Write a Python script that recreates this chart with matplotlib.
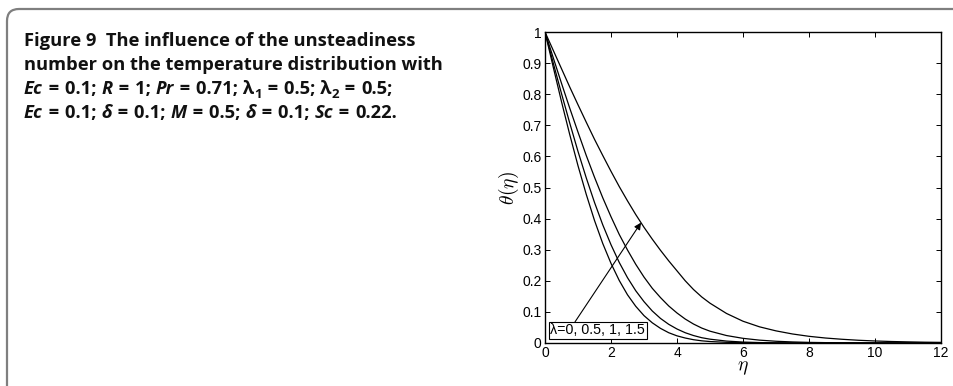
import matplotlib
matplotlib.use("Agg")
import matplotlib.pyplot as plt
from matplotlib.patches import FancyBboxPatch
from matplotlib.transforms import IdentityTransform

plt.rcParams['mathtext.fontset'] = 'cm'

# ---- data ----
eta = [0, 0.25, 0.5, 0.75, 1.0, 1.25, 1.5, 1.75, 2.0, 2.25, 2.5, 2.75, 3.0, 3.25, 3.5,
       3.75, 4.0, 4.25, 4.5, 4.75, 5.0, 5.5, 6.0, 6.5, 7.0, 7.5, 8.0, 8.5, 9.0, 9.5,
       10.0, 10.5, 11.0, 11.5, 12.0]
theta_l0 = [1.0, 0.887, 0.776, 0.670, 0.570, 0.478, 0.394, 0.320, 0.256, 0.201, 0.155,
            0.118, 0.088, 0.065, 0.047, 0.033, 0.023, 0.016, 0.0106, 0.007, 0.0047,
            0.0022, 0.001, 0.0004, 0.0002, 0.0001, 0, 0, 0, 0, 0, 0, 0, 0, 0]
theta_l05 = [1.0, 0.900, 0.802, 0.707, 0.616, 0.531, 0.452, 0.380, 0.316, 0.259, 0.210,
             0.168, 0.133, 0.103, 0.079, 0.060, 0.045, 0.033, 0.024, 0.017, 0.0123,
             0.0062, 0.003, 0.0014, 0.0006, 0.0003, 0.0001, 0, 0, 0, 0, 0, 0, 0, 0]
theta_l1 = [1.0, 0.917, 0.835, 0.755, 0.678, 0.603, 0.533, 0.467, 0.406, 0.349, 0.299,
            0.253, 0.212, 0.176, 0.146, 0.119, 0.0965, 0.077, 0.061, 0.048, 0.038,
            0.024, 0.015, 0.0092, 0.0056, 0.0034, 0.002, 0.0012, 0.0007, 0.0004,
            0.0002, 0.0001, 0, 0, 0]
theta_l15 = [1.0, 0.941, 0.882, 0.823, 0.766, 0.710, 0.655, 0.603, 0.552, 0.503, 0.457,
             0.413, 0.372, 0.334, 0.298, 0.264, 0.232, 0.200, 0.172, 0.148, 0.128,
             0.095, 0.070, 0.052, 0.039, 0.029, 0.0215, 0.016, 0.012, 0.0088, 0.0065,
             0.0048, 0.0036, 0.0026, 0.002]
series = [theta_l0, theta_l05, theta_l1, theta_l15]

xticks = [0, 2, 4, 6, 8, 10, 12]
yticks = [0, 0.1, 0.2, 0.3, 0.4, 0.5, 0.6, 0.7, 0.8, 0.9, 1]
yticklabels = ['0', '0.1', '0.2', '0.3', '0.4', '0.5', '0.6', '0.7', '0.8', '0.9', '1']
annot_text = "λ=0, 0.5, 1, 1.5"

W, H = 954, 386
fig = plt.figure(figsize=(W / 100, H / 100), dpi=100)

# outer rounded frame
frame = FancyBboxPatch((7, -60), 1100, (H - 9) + 60,
                       boxstyle="round,pad=0,rounding_size=12",
                       transform=IdentityTransform(), fill=False,
                       edgecolor='#7f7f7f', linewidth=1.6, zorder=0)
fig.patches.append(frame)

# axes
L, R, T, B = 545, 941, 32, 343
ax = fig.add_axes([L / W, (H - B) / H, (R - L) / W, (B - T) / H])
for s in series:
    ax.plot(eta, s, color='black', linewidth=0.9)
ax.set_xlim(0, 12)
ax.set_ylim(0, 1)
ax.set_xticks(xticks)
ax.set_xticklabels([str(v) for v in xticks])
ax.set_yticks(yticks)
ax.set_yticklabels(yticklabels)
ax.tick_params(direction='in', length=3.5, width=0.7, top=True, right=True,
               labelsize=10, pad=2)
ax.tick_params(axis='y', pad=2.5)
for lab in ax.get_xticklabels() + ax.get_yticklabels():
    lab.set_fontfamily('Liberation Sans')
for sp in ax.spines.values():
    sp.set_linewidth(1.0)
ax.set_xlabel(r'$\eta$', fontsize=14, labelpad=-1)
ax.set_ylabel(r'$\theta(\eta)$', fontsize=14, labelpad=1)

ax.annotate('', xy=(2.91, 0.387), xytext=(0.91, 0.068),
            arrowprops=dict(arrowstyle='-|>', color='black', lw=0.8,
                            mutation_scale=10, shrinkA=0, shrinkB=0))
ax.text(0.16, 0.041, annot_text, fontsize=10.3, family='Liberation Sans',
        va='center', ha='left',
        bbox=dict(boxstyle='square,pad=0.12', fc='white', ec='black', lw=0.8))

# caption: runs of (text, italic, subscript, extra left gap in px)
cap_font = ['Open Sans', 'DejaVu Sans']
cap_size = 13.2
x0 = 24 / W
g = 1.2
lines = [
    [("Figure 9  The influence of the unsteadiness", 0, 0, 0)],
    [("number on the temperature distribution with", 0, 0, 0)],
    [("Ec", 1, 0, 0), (" = ", 0, 0, g), ("0.1; ", 0, 0, g), ("R", 1, 0, 0),
     (" = ", 0, 0, g), ("1; ", 0, 0, g), ("Pr", 1, 0, 0), (" = ", 0, 0, g),
     ("0.71; λ", 0, 0, g), ("1", 0, 1, 0), (" = ", 0, 0, g), ("0.5; λ", 0, 0, g),
     ("2", 0, 1, 0), (" = ", 0, 0, g), ("0.5;", 0, 0, g)],
    [("Ec", 1, 0, 0), (" = ", 0, 0, g), ("0.1; ", 0, 0, g), ("δ", 1, 0, 0),
     (" = ", 0, 0, g), ("0.1; ", 0, 0, g), ("M", 1, 0, 0), (" = ", 0, 0, g),
     ("0.5; ", 0, 0, g), ("δ", 1, 0, 0), (" = ", 0, 0, g), ("0.1; ", 0, 0, g),
     ("Sc", 1, 0, 0), (" = ", 0, 0, g), ("0.22.", 0, 0, g)],
]
baselines = [46, 70, 94, 118]
for runs, by in zip(lines, baselines):
    yf = 1 - by / H
    last = None
    for txt, it, sub, gap in runs:
        size = cap_size * (0.72 if sub else 1.0)
        dy = -4 if sub else 0
        kw = dict(fontsize=size, fontweight='bold', family=cap_font,
                  fontstyle='italic' if it else 'normal',
                  va='baseline', ha='left', color='#111111')
        if last is None:
            last = fig.text(x0, yf, txt, **kw)
        else:
            ann = plt.Annotation(txt, xy=(1, yf), xycoords=(last, 'figure fraction'),
                                 xytext=(gap, dy), textcoords='offset pixels', **kw)
            fig.add_artist(ann)
            last = ann

fig.savefig('out.png', dpi=100)
